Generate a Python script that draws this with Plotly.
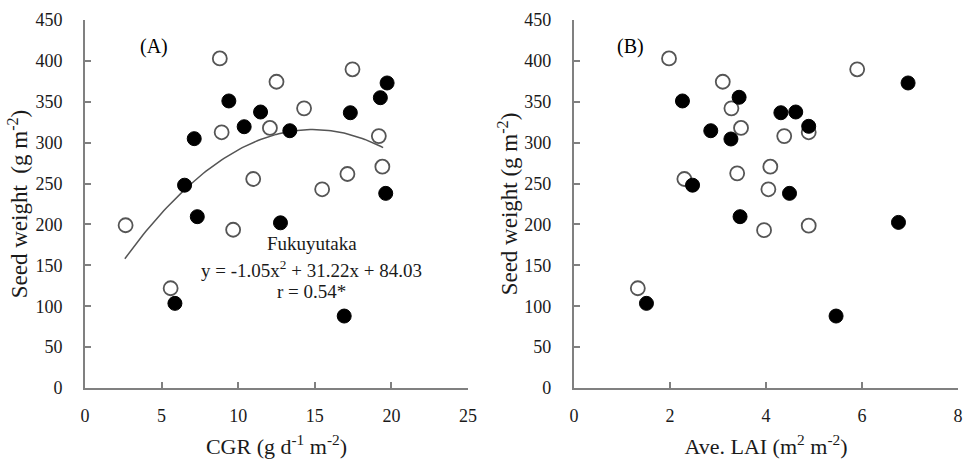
import numpy as np
import plotly.graph_objects as go

# Panel A: CGR vs seed weight
cgr_open = [8.8, 12.5, 17.46, 14.3, 8.92, 12.07, 19.18, 10.98, 15.48, 17.13, 19.41, 2.65, 9.67, 5.59]
sw_open_a = [403, 374.5, 389.7, 342, 312.7, 318, 308, 255.6, 243, 261.7, 270.6, 199, 193.5, 122]
cgr_filled = [19.72, 19.28, 9.39, 11.46, 17.32, 10.39, 13.37, 7.13, 6.5, 19.63, 7.33, 12.76, 5.87, 16.92]
sw_filled_a = [373, 355, 351, 337.5, 336.6, 319.5, 314.6, 304.9, 248, 238, 209.5, 202, 103.5, 88]

# Panel B: Ave. LAI vs seed weight
lai_open = [1.98, 3.10, 5.90, 3.28, 3.48, 4.38, 4.89, 2.30, 3.40, 4.09, 4.05, 3.96, 4.89, 1.33]
sw_open_b = [403, 374.5, 389.7, 342, 318, 308, 312.7, 255.6, 262.5, 270.6, 243, 193, 198.5, 122]
lai_filled = [6.96, 3.44, 2.26, 4.31, 4.62, 4.89, 2.85, 3.27, 2.47, 4.49, 3.46, 6.76, 1.51, 5.46]
sw_filled_b = [373, 355.5, 351, 336.6, 337.5, 320, 314.6, 304.5, 248, 238, 209.5, 202.5, 103.5, 88]

# Quadratic fit (Fukuyutaka)
coef = [-1.05, 31.22, 84.03]
fit_range = [2.6, 19.46]

FONT = "Liberation Serif"
AX = "#808080"
TXT = "#1a1a1a"

fig = go.Figure()

xf = np.linspace(fit_range[0], fit_range[1], 100)
yf = coef[0] * xf**2 + coef[1] * xf + coef[2]
fig.add_trace(go.Scatter(x=xf, y=yf, mode="lines", line=dict(color="#555555", width=1.5),
                         xaxis="x", yaxis="y", showlegend=False, hoverinfo="skip"))

open_marker = dict(symbol="circle", size=14, color="white", line=dict(color="#555555", width=1.8))
filled_marker = dict(symbol="circle", size=14, color="black", line=dict(color="black", width=1))

fig.add_trace(go.Scatter(x=cgr_open, y=sw_open_a, mode="markers", marker=open_marker,
                         xaxis="x", yaxis="y", showlegend=False))
fig.add_trace(go.Scatter(x=cgr_filled, y=sw_filled_a, mode="markers", marker=filled_marker,
                         xaxis="x", yaxis="y", showlegend=False))
fig.add_trace(go.Scatter(x=lai_open, y=sw_open_b, mode="markers", marker=open_marker,
                         xaxis="x2", yaxis="y2", showlegend=False))
fig.add_trace(go.Scatter(x=lai_filled, y=sw_filled_b, mode="markers", marker=filled_marker,
                         xaxis="x2", yaxis="y2", showlegend=False))

common_axis = dict(showline=True, linecolor=AX, linewidth=2, ticks="inside", ticklen=6,
                   tickcolor=AX, tickwidth=1.5, showgrid=False, zeroline=False,
                   tickfont=dict(family=FONT, size=18, color=TXT))

xtitle_font = dict(family=FONT, size=22, color=TXT)
ytitle_font = dict(family=FONT, size=23, color=TXT)

fig.update_layout(
    width=964, height=464,
    margin=dict(l=85, r=6, t=20, b=76),
    paper_bgcolor="white", plot_bgcolor="white",
    xaxis=dict(domain=[0, 0.4387], range=[0, 25], dtick=5, anchor="y", automargin=False,
               title=dict(text="CGR (g d<sup>-1</sup> m<sup>-2</sup>)", font=xtitle_font, standoff=14),
               ticklabelstandoff=10, **common_axis),
    yaxis=dict(domain=[0, 1], range=[0, 450], dtick=50, anchor="x", automargin=True,
               title=dict(text="Seed weight  (g m<sup>-2</sup>)", font=ytitle_font, standoff=1),
               ticklabelstandoff=17, **common_axis),
    xaxis2=dict(domain=[0.5601, 1], range=[0, 8], dtick=2, anchor="y2", automargin=False,
                title=dict(text="Ave. LAI (m<sup>2</sup> m<sup>-2</sup>)", font=xtitle_font, standoff=14),
                ticklabelstandoff=10, **common_axis),
    yaxis2=dict(domain=[0, 1], range=[0, 450], dtick=50, anchor="x2", automargin=True,
                title=dict(text="Seed weight (g m<sup>-2</sup>)", font=ytitle_font, standoff=0),
                ticklabelstandoff=17, **common_axis),
    annotations=[
        dict(text="(A)", x=4.5, y=418, xref="x", yref="y", showarrow=False,
             font=dict(family=FONT, size=20, color="black")),
        dict(text="(B)", x=1.17, y=418, xref="x2", yref="y2", showarrow=False,
             font=dict(family=FONT, size=20, color="black")),
        dict(text="Fukuyutaka", x=14.8, y=177, xref="x", yref="y", showarrow=False,
             font=dict(family=FONT, size=19, color=TXT)),
        dict(text="y = -1.05x<sup>2</sup> + 31.22x + 84.03", x=14.8, y=146, xref="x", yref="y", showarrow=False,
             font=dict(family=FONT, size=19, color=TXT)),
        dict(text="r = 0.54*", x=14.8, y=118, xref="x", yref="y", showarrow=False,
             font=dict(family=FONT, size=19, color=TXT)),
    ],
)

fig.write_html("out.html")
